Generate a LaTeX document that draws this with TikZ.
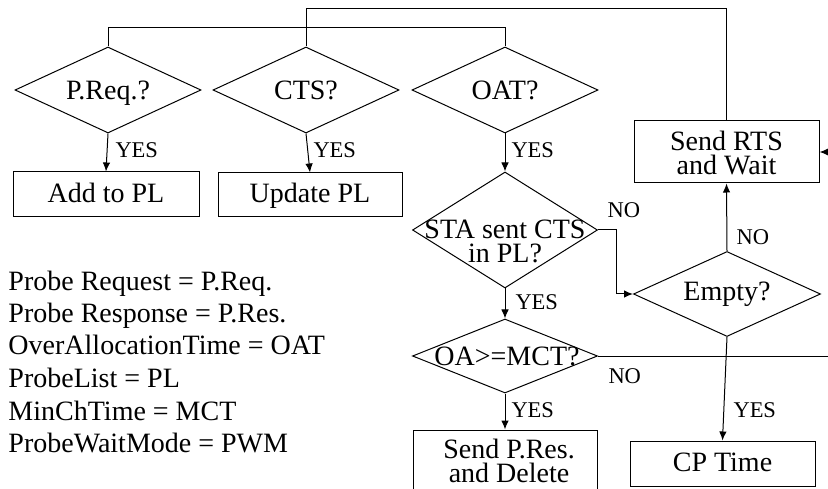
\documentclass[tikz,border=0pt]{standalone}
\usepackage{fontspec}
\setmainfont{Liberation Serif}
\usetikzlibrary{shapes.geometric,arrows.meta}
\begin{document}
\begin{tikzpicture}[x=1pt,y=-1pt,line width=1pt,
  txt/.style={inner sep=0pt,anchor=base,font=\fontsize{28}{32}\selectfont},
  two/.style={inner sep=0pt,anchor=south,align=center,font=\fontsize{28}{24}\selectfont},
  legend/.style={inner sep=0pt,anchor=base west,font=\fontsize{28}{32}\selectfont},
  lbl/.style={inner sep=0pt,anchor=base west,font=\fontsize{22.5}{26}\selectfont},
  dec/.style={draw,diamond,inner sep=0pt,minimum width=186pt,minimum height=86pt},
  box/.style={draw,rectangle,inner sep=0pt,minimum width=185pt},
  flow/.style={-{Latex[length=9pt,width=7.5pt]}},
]
\useasboundingbox (0,0) rectangle (828,489);
\clip (0,0) rectangle (828,489);

% decisions
\node[dec] (preq) at (108,90) {};
\node[txt] (preqT) at (108,100) {P.Req.?};
\node[dec] (cts) at (306,90) {};
\node[txt] (ctsT) at (306,100) {CTS?};
\node[dec] (oat) at (505,90) {};
\node[txt] (oatT) at (505,100) {OAT?};
\node[dec,minimum width=185pt,minimum height=116pt] (sta) at (505,230) {};
\node[two] (staT) at (505,263) {STA sent CTS\\in PL?};
\node[dec,minimum width=185pt,minimum height=74pt] (oa) at (505,356) {};
\node[txt] (oaT) at (507,365) {OA>=MCT?};
\node[dec,minimum width=187pt,minimum height=85pt] (empty) at (727,294) {};
\node[txt] (emptyT) at (727,301) {Empty?};

% actions
\node[box,minimum width=186pt,minimum height=45pt] (addpl) at (106,194.5) {};
\node[txt] (addplT) at (106,203) {Add to PL};
\node[box,minimum width=184pt,minimum height=44pt] (updpl) at (310,195) {};
\node[txt] (updplT) at (310,203) {Update PL};
\node[box,minimum height=62pt] (rts) at (726.5,152) {};
\node[two] (rtsT) at (726.5,175) {Send RTS\\and Wait};
\node[box,minimum height=45pt] (cp) at (722.5,463.5) {};
\node[txt] (cpT) at (722.5,471) {CP Time};
\node[box,minimum width=184pt,minimum height=65pt] (spr) at (505,462.5) {};
\node[two] (sprT) at (509,483) {Send P.Res.\\and Delete};

% connectors
\draw (rts.north) -- ++(0,-112) -| (cts.north);
\draw (preq.north) -- ++(0,-19) -| (oat.north);
\draw[flow] (preq.south) -- (addpl.north);
\draw[flow] (cts.south) -- (updpl.north);
\draw[flow] (oat.south) -- (sta.north);
\draw[flow] (sta.south) -- (oa.north);
\draw[flow] (oa.south) -- (spr.north);
\draw[flow] (sta.east) -- ++(18,0) |- (empty.west);
\draw[flow] (empty.north) -- (rts.south);
\draw[flow] (empty.south) -- (cp.north);
\draw[flow] (oa.east) -- ++(250,0) |- (rts.east);

% branch labels
\node[lbl] (y1) at (115,158) {YES};
\node[lbl] (y2) at (313,158) {YES};
\node[lbl] (y3) at (511,158) {YES};
\node[lbl] (y4) at (515,310) {YES};
\node[lbl] (y5) at (511,417) {YES};
\node[lbl] (y6) at (733,417) {YES};
\node[lbl] (n1) at (607,218) {NO};
\node[lbl] (n2) at (736,245) {NO};
\node[lbl] (n3) at (608,383) {NO};

% abbreviations
\node[legend] (l1) at (8,291) {Probe Request = P.Req.};
\node[legend] (l2) at (8,323) {Probe Response = P.Res.};
\node[legend] (l3) at (8,355) {OverAllocationTime = OAT};
\node[legend] (l4) at (8,387) {ProbeList = PL};
\node[legend] (l5) at (8,420) {MinChTime = MCT};
\node[legend] (l6) at (8,452) {ProbeWaitMode = PWM};
\end{tikzpicture}
\end{document}
